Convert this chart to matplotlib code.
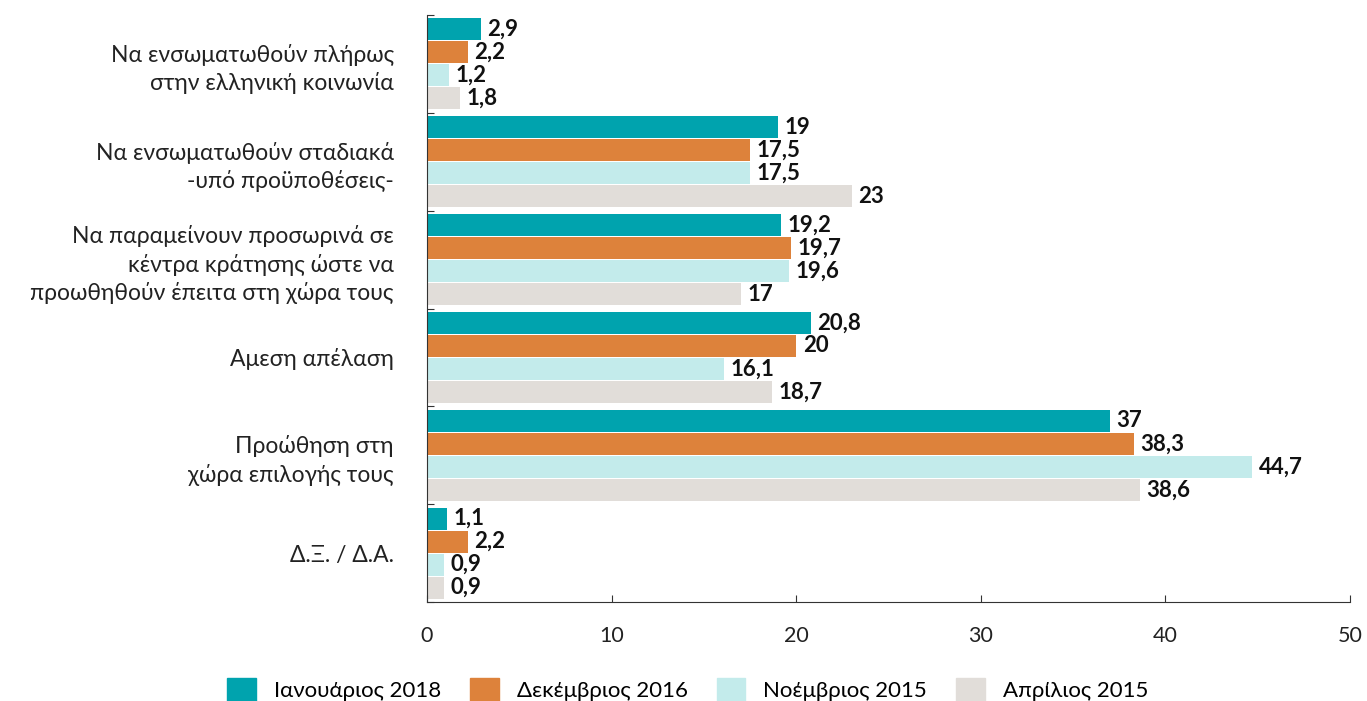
import numpy as np
import matplotlib.pyplot as plt
from matplotlib.patches import Patch

categories = ['Να ενσωματωθούν πλήρως\nστην ελληνική κοινωνία',
              'Να ενσωματωθούν σταδιακά\n-υπό προϋποθέσεις-',
              'Να παραμείνουν προσωρινά σε\nκέντρα κράτησης ώστε να\nπροωθηθούν έπειτα στη χώρα τους',
              'Αμεση απέλαση',
              'Προώθηση στη\nχώρα επιλογής τους',
              'Δ.Ξ. / Δ.Α.']
series = ['Ιανουάριος 2018', 'Δεκέμβριος 2016', 'Νοέμβριος 2015', 'Απρίλιος 2015']
jan2018 = [2.9, 19, 19.2, 20.8, 37, 1.1]
dec2016 = [2.2, 17.5, 19.7, 20, 38.3, 2.2]
nov2015 = [1.2, 17.5, 19.6, 16.1, 44.7, 0.9]
apr2015 = [1.8, 23, 17, 18.7, 38.6, 0.9]
colors = ['#00A3AE', '#DD823B', '#C3EBEB', '#E1DDD9']

plt.rcParams['font.family'] = ['Lato', 'DejaVu Sans']

fig = plt.figure(figsize=(13.67, 7.01), dpi=100)
ax = fig.add_axes([0.3124, 0.1412, 0.6752, 0.8374])

y = np.arange(len(categories))
h = 0.225
step = 0.235
offsets = [-1.5 * step, -0.5 * step, 0.5 * step, 1.5 * step]
for vals, col, off in zip([jan2018, dec2016, nov2015, apr2015], colors, offsets):
    bars = ax.barh(y + off, vals, height=h, color=col)
    for b, v in zip(bars, vals):
        lab = ('%g' % v).replace('.', ',')
        ax.text(v + 0.35, b.get_y() + b.get_height() / 2, lab, va='center', ha='left',
                fontsize=16, fontweight='bold', color='#111111')

ax.set_ylim(len(categories) - 0.5, -0.5)
ax.set_xlim(0, 50)
ax.set_xticks([0, 10, 20, 30, 40, 50])
ax.set_yticks(np.arange(-0.5, len(categories), 1.0), minor=False)
ax.set_yticklabels([])
ax.set_yticks(y, minor=True)
ax.set_yticklabels(categories, minor=True, fontsize=16.5, color='#222222', linespacing=1.35)
ax.tick_params(axis='y', which='minor', length=0, pad=24)
ax.tick_params(axis='y', which='major', direction='in', length=5, color='#333333')
ax.tick_params(axis='x', direction='in', length=5, pad=17, labelsize=15.5, color='#333333', labelcolor='#222222')
for s in ['top', 'right']:
    ax.spines[s].set_visible(False)
ax.spines['left'].set_color('#333333')
ax.spines['bottom'].set_color('#333333')

handles = [Patch(color=c) for c in colors]
fig.legend(handles, series, loc='lower center', ncol=4, frameon=False, fontsize=16,
           bbox_to_anchor=(0.503, -0.03), handlelength=1.3, handleheight=1.3,
           handletextpad=0.8, columnspacing=1.3)

fig.savefig('out.png', dpi=100)
